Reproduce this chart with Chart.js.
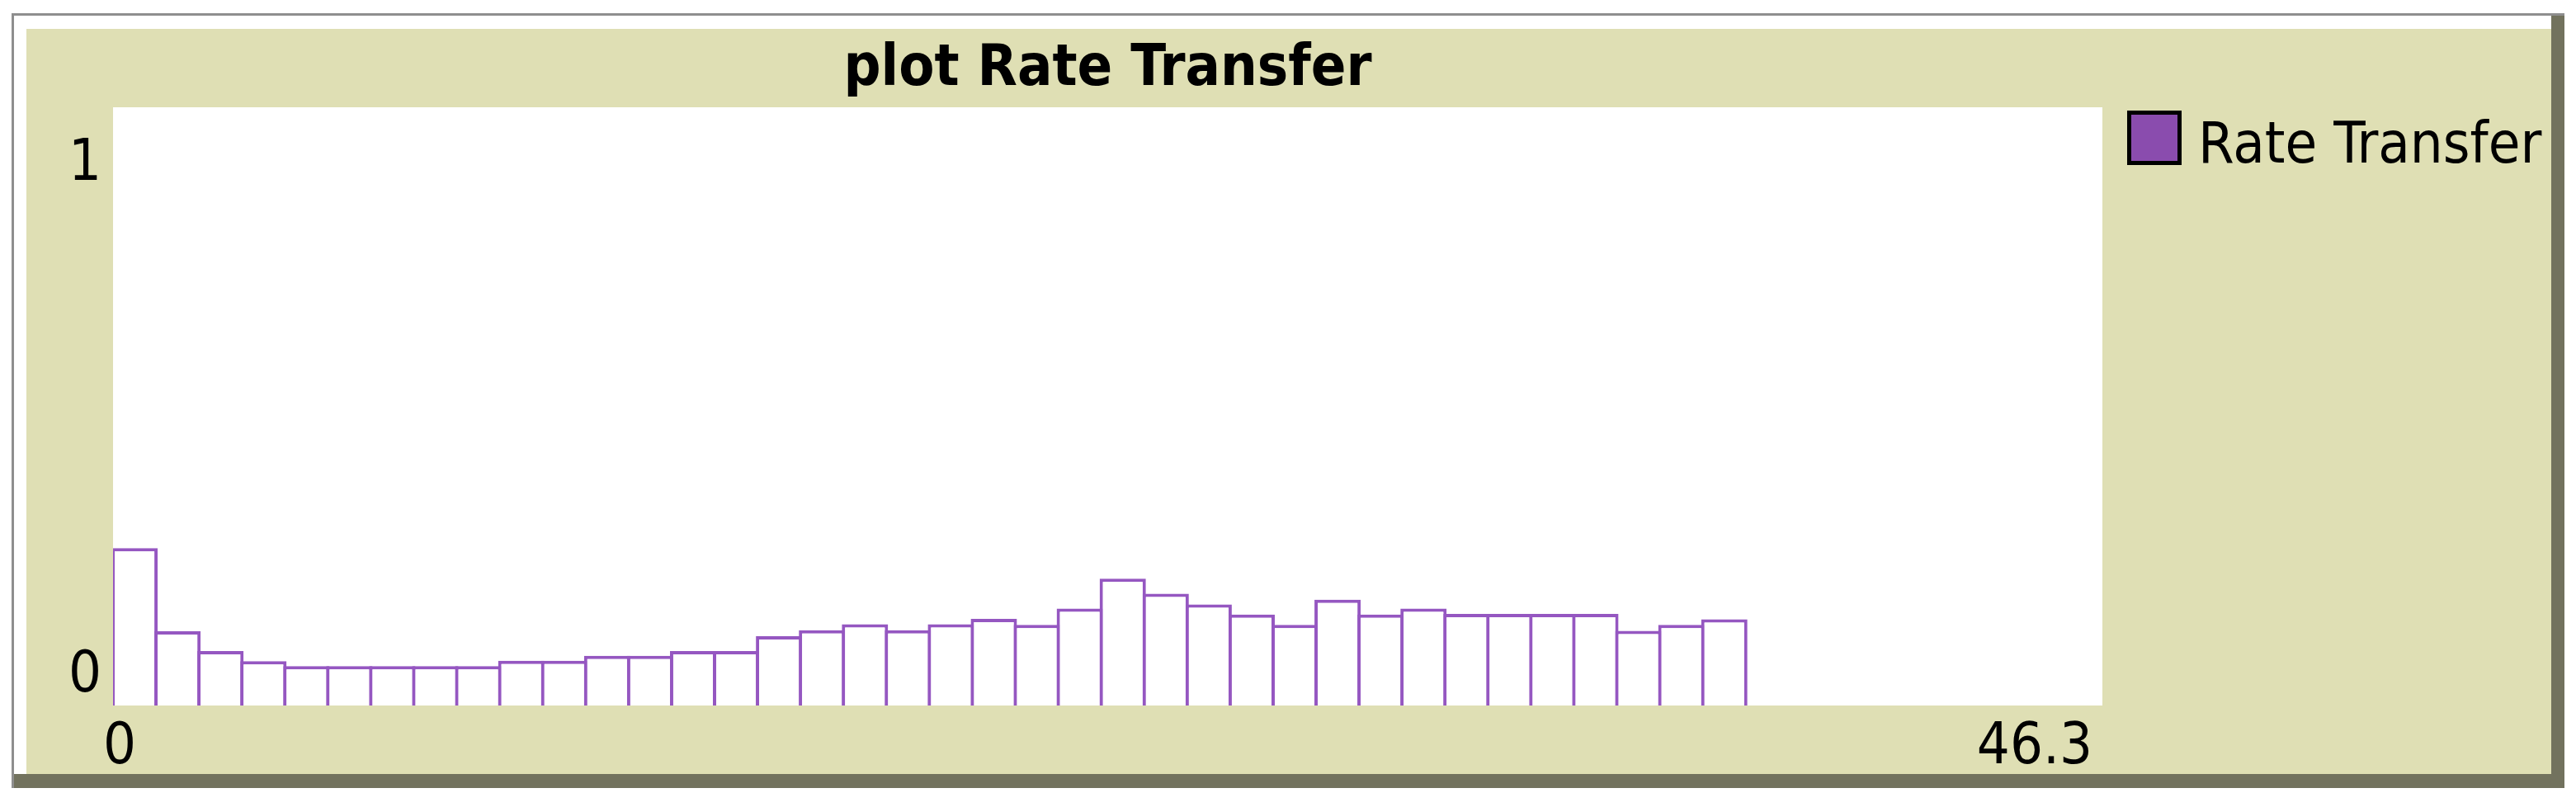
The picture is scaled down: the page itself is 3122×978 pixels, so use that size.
<!DOCTYPE html>
<html>
<head>
<meta charset="utf-8">
<title>plot Rate Transfer</title>
<script src="https://cdn.jsdelivr.net/npm/chart.js@4.4.1/dist/chart.umd.min.js"></script>
<style>
  html, body { margin: 0; padding: 0; background: #fff; }
  canvas { display: block; }
</style>
</head>
<body>
<canvas id="plot" width="3122" height="978"></canvas>
<script>
// ===== data =====
const plotTitle = "plot Rate Transfer";
const seriesName = "Rate Transfer";
const binStarts = [0,1,2,3,4,5,6,7,8,9,10,11,12,13,14,15,16,17,18,19,
                   20,21,22,23,24,25,26,27,28,29,30,31,32,33,34,35,36,37];
const rateValues = [0.263,0.124,0.091,0.074,0.066,0.066,0.066,0.066,0.066,0.075,
                    0.075,0.083,0.083,0.091,0.091,0.116,0.126,0.136,0.126,0.136,
                    0.145,0.135,0.162,0.212,0.187,0.169,0.152,0.135,0.177,0.152,
                    0.162,0.153,0.153,0.153,0.153,0.125,0.135,0.144];
const xTicks = [0, 46.3];
const yTicks = [0, 1];
const xMax = 46.3;
const yMax = 1;

// ===== look =====
const FONT = '"DejaVu Sans Condensed", "DejaVu Sans", sans-serif';
const penColor = "#9557c1";
const swatchColor = "#8a4cae";
const beige = "#dfdfb4";
const lineW = 4;
const area = { left: 137, top: 130, right: 2548, bottom: 855 };
const unitPx = (area.right - area.left) / xMax;

// NetLogo style panel, title, legend and y labels
const netlogoPanel = {
  id: "netlogoPanel",
  beforeDraw(chart) {
    const { ctx, chartArea: a, width, height } = chart;
    ctx.save();
    ctx.fillStyle = "#ffffff"; ctx.fillRect(0, 0, width, height);
    ctx.fillStyle = "#8e8e8e"; ctx.fillRect(14, 16, 3094, 939);
    ctx.fillStyle = "#72725e"; ctx.fillRect(17, 19, 3091, 936);
    ctx.fillStyle = "#ffffff"; ctx.fillRect(17, 19, 3075, 919);
    ctx.fillStyle = beige;     ctx.fillRect(32, 35, 3060, 903);
    ctx.fillStyle = "#ffffff"; ctx.fillRect(a.left, a.top, a.right - a.left, a.bottom - a.top);
    ctx.restore();
  },
  afterDraw(chart) {
    const { ctx, chartArea: a, scales } = chart;
    ctx.save();
    ctx.fillStyle = "#000";
    // title
    ctx.font = "bold 70px " + FONT;
    ctx.textAlign = "center"; ctx.textBaseline = "alphabetic";
    ctx.fillText(plotTitle, (a.left + a.right) / 2, a.top - 27);
    // y labels (NetLogo draws them inside the range)
    ctx.font = "70px " + FONT;
    ctx.textAlign = "right";
    yTicks.forEach(v => {
      const py = scales.y.getPixelForValue(v);
      ctx.fillText(String(v), a.left - 14, v === yMax ? py + 88 : py - 17);
    });
    // legend
    const ds = chart.data.datasets[0];
    ctx.fillStyle = "#000";
    ctx.fillRect(a.right + 30, a.top + 4, 66, 66);
    ctx.fillStyle = swatchColor;
    ctx.fillRect(a.right + 35, a.top + 9, 56, 56);
    ctx.fillStyle = "#000";
    ctx.textAlign = "left";
    ctx.fillText(ds.label, a.right + 116, a.top + 67);
    ctx.restore();
  }
};

new Chart(document.getElementById("plot"), {
  type: "bar",
  data: {
    datasets: [{
      label: seriesName,
      data: binStarts.map((b, i) => ({ x: b + 0.5, y: rateValues[i] })),
      backgroundColor: "#ffffff",
      borderColor: penColor,
      borderWidth: lineW,
      borderSkipped: "bottom",
      categoryPercentage: 1,
      barPercentage: 1 + lineW / unitPx
    }]
  },
  options: {
    responsive: false,
    animation: false,
    devicePixelRatio: 1,
    layout: { padding: { left: area.left, top: area.top, right: 3122 - area.right, bottom: 978 - area.bottom - 90 } },
    plugins: { legend: { display: false }, title: { display: false }, tooltip: { enabled: false } },
    scales: {
      x: {
        type: "linear", min: 0, max: xMax, offset: false,
        afterBuildTicks: s => { s.ticks = xTicks.map(v => ({ value: v })); },
        afterFit: s => { s.height = 90; },
        grid: { display: false }, border: { display: false },
        ticks: {
          align: "inner", padding: 2, labelOffset: -12, color: "#000",
          maxRotation: 0, autoSkip: false,
          font: { family: FONT, size: 70 },
          callback: v => String(v)
        }
      },
      y: { display: false, min: 0, max: yMax }
    }
  },
  plugins: [netlogoPanel]
});
</script>
</body>
</html>
